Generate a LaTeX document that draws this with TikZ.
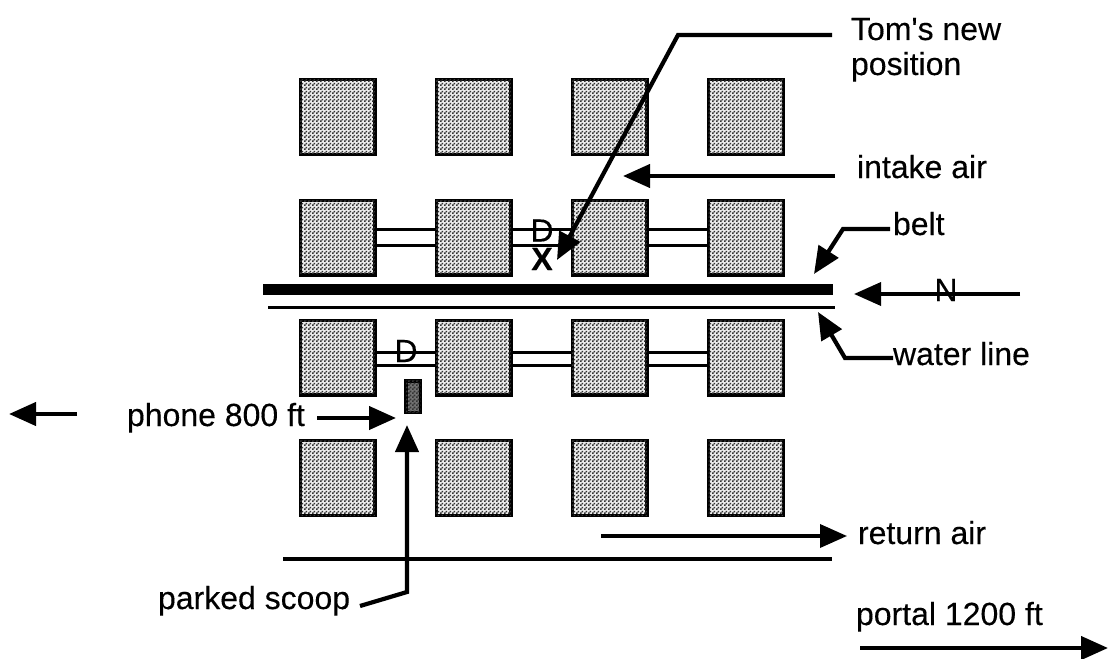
\documentclass[tikz,border=0pt]{standalone}
\usepackage{fontspec}
\setmainfont[FakeBold=0.25,Ligatures=TeXOff]{Liberation Sans}
\usetikzlibrary{arrows.meta,patterns}
\pgfdeclarepatternformonly{scan}{\pgfqpoint{0pt}{0pt}}{\pgfqpoint{4pt}{4pt}}{\pgfqpoint{4pt}{4pt}}{
  \pgfpathrectangle{\pgfqpoint{0pt}{0pt}}{\pgfqpoint{2pt}{2pt}}
  \pgfpathrectangle{\pgfqpoint{2pt}{2pt}}{\pgfqpoint{2pt}{2pt}}
  \pgfusepath{fill}}
\tikzset{
  pillar/.style={draw=black,line width=3.2pt,fill=black!8,postaction={pattern=scan,pattern color=black!80},minimum size=74.8pt,inner sep=0pt,outer sep=0pt},
  lbl/.style={inner sep=0pt,outer sep=0pt,anchor=base west,font=\fontsize{32}{36}\selectfont,align=left},
  glyph/.style={inner sep=0pt,outer sep=0pt,font=\fontsize{32}{36}\selectfont},
  entry/.style={line width=3pt},
  lead/.style={line width=3.6pt,-{Triangle[length=27pt,width=23pt]}},
  leadb/.style={line width=4.2pt,-{Triangle[length=27pt,width=23pt]}}
}
\begin{document}
\begin{tikzpicture}[x=1pt,y=-1pt]
\useasboundingbox (0,0) rectangle (1110,658);
% pillars
\foreach \c/\x in {1/337.5,2/473.5,3/609.5,4/746}{
  \foreach \r/\y in {1/117,2/237.5,3/357.5,4/478}{
    \node[pillar] (p\r\c) at (\x,\y) {};
  }
}
% crosscuts
\foreach \a/\b in {1/2,2/3,3/4}{
  \coordinate (u\a) at (0,229); \coordinate (v\a) at (0,245);
  \draw[entry] (p2\a.east |- u\a) -- (p2\b.west |- u\a);
  \draw[entry] (p2\a.east |- v\a) -- (p2\b.west |- v\a);
  \coordinate (w\a) at (0,352); \coordinate (z\a) at (0,365);
  \draw[entry] (p3\a.east |- w\a) -- (p3\b.west |- w\a);
  \draw[entry] (p3\a.east |- z\a) -- (p3\b.west |- z\a);
}
% belt, water line, return line
\coordinate (beltw) at (263,289.5); \coordinate (belte) at (833,289.5);
\draw[line width=11pt] (beltw) -- (belte);
\coordinate (waterw) at (268,307); \coordinate (watere) at (835,307);
\draw[line width=3pt] (waterw) -- (watere);
\coordinate (retw) at (283,559); \coordinate (rete) at (832,559);
\draw[line width=3.4pt] (retw) -- (rete);
% scoop
\node[draw=black,line width=3.5pt,fill=black!55,postaction={pattern=scan,pattern color=black!80},minimum width=14.5pt,minimum height=31.5pt,inner sep=0pt] (scoop) at (413,396.5) {};
% marks
\node[glyph] (d1) at (542,230.5) {D};
\node[glyph] (d2) at (406,351) {D};
\node[glyph,font=\fontsize{32}{36}\selectfont\bfseries] (x1) at (542,259) {X};
% labels
\node[lbl] (tom) at (851,40) {Tom's new};
\node[lbl] (pos) at (851,75) {position};
\node[lbl] (intake) at (857,178) {intake air};
\node[lbl] (belt) at (893,235) {belt};
\node[lbl] (water) at (893,365) {water line};
\node[glyph] (n) at (946,290) {N};
\node[lbl] (phone) at (127,426) {phone 800 ft};
\node[lbl] (scooplab) at (158,609) {parked scoop};
\node[lbl] (ret) at (858,544) {return air};
\node[lbl] (portal) at (856,625) {portal 1200 ft};
% leaders
\coordinate (t0) at (832,35); \coordinate (t1) at (678,35); \coordinate (t2) at (557,260);
\draw[leadb] (t0) -- (t1) -- (t2);
\coordinate (i0) at (835,176); \coordinate (i1) at (623,176);
\draw[leadb] (i0) -- (i1);
\coordinate (b0) at (890,229); \coordinate (b1) at (843,229); \coordinate (b2) at (814,274);
\draw[leadb] (b0) -- (b1) -- (b2);
\coordinate (n0) at (1020,294); \coordinate (n1) at (854,294);
\draw[lead] (n0) -- (n1);
\coordinate (w0) at (893,358); \coordinate (w1) at (845,358); \coordinate (w2) at (818,312);
\draw[leadb] (w0) -- (w1) -- (w2);
\coordinate (ph0) at (317,418); \coordinate (ph1) at (396,418);
\draw[leadb] (ph0) -- (ph1);
\coordinate (l0) at (77,414); \coordinate (l1) at (9,414);
\draw[leadb] (l0) -- (l1);
\coordinate (s0) at (360,606); \coordinate (s1) at (407,592); \coordinate (s2) at (407,425);
\draw[leadb] (s0) -- (s1) -- (s2);
\coordinate (r0) at (601,536); \coordinate (r1) at (847,536);
\draw[lead] (r0) -- (r1);
\coordinate (q0) at (860,648); \coordinate (q1) at (1108,648);
\draw[leadb] (q0) -- (q1);
\end{tikzpicture}
\end{document}
